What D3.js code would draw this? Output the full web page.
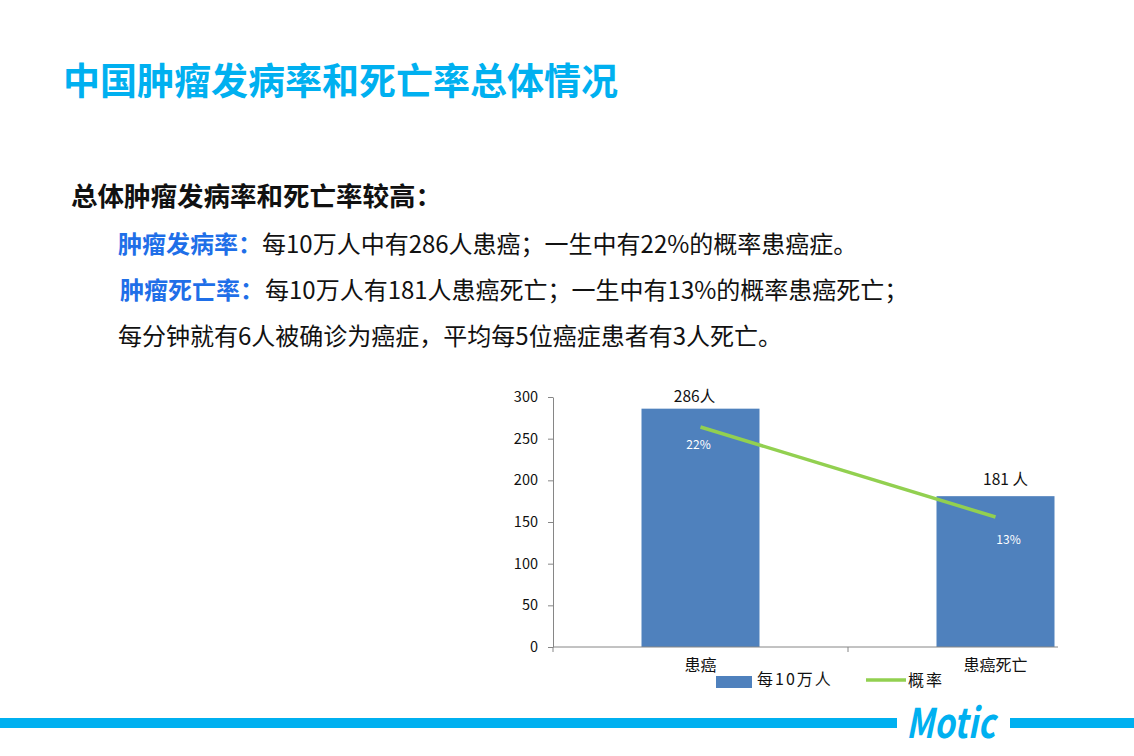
<!DOCTYPE html>
<html>
<head>
<meta charset="utf-8">
<script src="https://cdn.jsdelivr.net/npm/d3@7"></script>
<style>
    html, body { margin: 0; padding: 0; background: #fff; }
    svg { display: block; }
    text { font-family: "Noto Sans CJK SC", "Noto Sans", sans-serif; }
</style>
</head>
<body>
<svg id="slide" width="1134" height="756"></svg>
<script>
// ---- Dados
const categories = ['患癌', '患癌死亡'];
const perHundredK = [286, 181];
const barLabels = ['286人', '181 人'];
const rates = [0.22, 0.13];
const rateLabels = ['22%', '13%'];
const yTicks = [0, 50, 100, 150, 200, 250, 300];
const legendNames = ['每10万人', '概率'];

const BLUE = '#4f81bd';
const GREEN = '#92d050';
const CYAN = '#00b0f0';
const AXIS = '#868686';

const svg = d3.select('#slide');

// ---- Textos do slide
svg.append('text')
    .attr('x', 63).attr('y', 79)
    .attr('dominant-baseline', 'central')
    .attr('font-size', '37px').attr('font-weight', 'bold')
    .attr('fill', CYAN)
    .text('中国肿瘤发病率和死亡率总体情况');

svg.append('text')
    .attr('x', 71).attr('y', 194)
    .attr('dominant-baseline', 'central')
    .attr('font-size', '26.5px').attr('font-weight', 'bold')
    .attr('fill', '#111')
    .text('总体肿瘤发病率和死亡率较高：');

const lines = [
    { head: '肿瘤发病率：', body: '每10万人中有286人患癌；一生中有22%的概率患癌症。', y: 242, hx: 118, bx: 262 },
    { head: '肿瘤死亡率：', body: '每10万人有181人患癌死亡；一生中有13%的概率患癌死亡；', y: 288, hx: 120, bx: 265 },
    { head: '', body: '每分钟就有6人被确诊为癌症，平均每5位癌症患者有3人死亡。', y: 334, hx: 118, bx: 118 }
];

lines.forEach(l => {
    if (l.head) {
        svg.append('text')
            .attr('x', l.hx).attr('y', l.y)
            .attr('dominant-baseline', 'central')
            .attr('font-size', '24px').attr('font-weight', 'bold')
            .attr('fill', '#1f6fe8')
            .text(l.head);
    }
    svg.append('text')
        .attr('x', l.bx).attr('y', l.y)
        .attr('dominant-baseline', 'central')
        .attr('font-size', '24px')
        .attr('fill', '#111')
        .text(l.body);
});

// ---- Gráfico
const plot = { left: 553, top: 397, bottom: 647, right: 1058 };

const x = d3.scaleBand()
    .domain(categories)
    .range([plot.left, plot.left + 590])
    .paddingInner(0.6)
    .paddingOuter(0.3);

const y = d3.scaleLinear()
    .domain([0, 300])
    .range([plot.bottom, plot.top]);

const y2 = d3.scaleLinear()
    .domain([0, 0.25])
    .range([plot.bottom, plot.top]);

const chart = svg.append('g');

chart.selectAll('rect.bar')
    .data(perHundredK)
    .join('rect')
    .attr('class', 'bar')
    .attr('x', (d, i) => x(categories[i]))
    .attr('y', d => y(d))
    .attr('width', x.bandwidth())
    .attr('height', d => y(0) - y(d))
    .attr('fill', BLUE);

// eixo Y
chart.append('g')
    .attr('transform', `translate(${plot.left}, 0)`)
    .call(d3.axisLeft(y).tickValues(yTicks).tickSizeInner(5).tickSizeOuter(0).tickPadding(10))
    .call(g => g.select('.domain').attr('stroke', AXIS))
    .call(g => g.selectAll('.tick line').attr('stroke', AXIS))
    .call(g => g.selectAll('.tick text')
        .attr('font-family', '"Noto Sans", sans-serif')
        .attr('font-size', '14.5px')
        .attr('fill', '#111'));

// eixo X (linha cortada na borda da área do gráfico)
const xBoundaries = [plot.left, plot.left + x.step()];
chart.append('line')
    .attr('x1', plot.left).attr('x2', plot.right)
    .attr('y1', plot.bottom).attr('y2', plot.bottom)
    .attr('stroke', AXIS);

chart.selectAll('line.xtick')
    .data(xBoundaries)
    .join('line')
    .attr('class', 'xtick')
    .attr('x1', d => d).attr('x2', d => d)
    .attr('y1', plot.bottom).attr('y2', plot.bottom + 5)
    .attr('stroke', AXIS);

chart.selectAll('text.cat')
    .data(categories)
    .join('text')
    .attr('class', 'cat')
    .attr('x', d => x(d) + x.bandwidth() / 2)
    .attr('y', plot.bottom + 17)
    .attr('dominant-baseline', 'central')
    .attr('text-anchor', 'middle')
    .attr('font-size', '16px')
    .attr('fill', '#111')
    .text(d => d);

// rótulos das barras
const barLabelShift = [-6, 10];
chart.selectAll('text.bar-label')
    .data(perHundredK)
    .join('text')
    .attr('class', 'bar-label')
    .attr('x', (d, i) => x(categories[i]) + x.bandwidth() / 2 + barLabelShift[i])
    .attr('y', (d, i) => y(d) - (i === 0 ? 14 : 18))
    .attr('dominant-baseline', 'central')
    .attr('text-anchor', 'middle')
    .attr('font-size', '15.5px')
    .attr('fill', '#111')
    .text((d, i) => barLabels[i]);

// linha de probabilidade
const line = d3.line()
    .x((d, i) => x(categories[i]) + x.bandwidth() / 2)
    .y(d => y2(d));

chart.append('path')
    .datum(rates)
    .attr('d', line)
    .attr('fill', 'none')
    .attr('stroke', GREEN)
    .attr('stroke-width', 3.5);

const rateLabelShift = [[-2, 16], [13, 21]];
chart.selectAll('text.rate-label')
    .data(rates)
    .join('text')
    .attr('class', 'rate-label')
    .attr('x', (d, i) => x(categories[i]) + x.bandwidth() / 2 + rateLabelShift[i][0])
    .attr('y', (d, i) => y2(d) + rateLabelShift[i][1])
    .attr('dominant-baseline', 'central')
    .attr('text-anchor', 'middle')
    .attr('font-family', '"Noto Sans", sans-serif')
    .attr('font-size', '12px')
    .attr('fill', '#fff')
    .text((d, i) => rateLabels[i]);

// ---- Legenda
const legend = svg.append('g');
legend.append('rect')
    .attr('x', 716).attr('y', 676)
    .attr('width', 36).attr('height', 12)
    .attr('fill', BLUE);
legend.append('text')
    .attr('x', 757).attr('y', 678)
    .attr('dominant-baseline', 'central')
    .attr('font-size', '16px')
    .attr('letter-spacing', '2px')
    .attr('fill', '#111')
    .text(legendNames[0]);
legend.append('line')
    .attr('x1', 866).attr('x2', 906)
    .attr('y1', 680).attr('y2', 680)
    .attr('stroke', GREEN)
    .attr('stroke-width', 3.5);
legend.append('text')
    .attr('x', 908).attr('y', 679)
    .attr('dominant-baseline', 'central')
    .attr('font-size', '16px')
    .attr('letter-spacing', '2px')
    .attr('fill', '#111')
    .text(legendNames[1]);

// ---- Rodapé
svg.append('rect')
    .attr('x', 0).attr('y', 718)
    .attr('width', 897).attr('height', 10)
    .attr('fill', CYAN);
svg.append('rect')
    .attr('x', 1010).attr('y', 718)
    .attr('width', 124).attr('height', 10)
    .attr('fill', CYAN);
svg.append('text')
    .attr('x', 906).attr('y', 738)
    .attr('font-family', '"Liberation Sans Narrow", "Liberation Sans", sans-serif')
    .attr('font-size', '41px')
    .attr('font-weight', 'bold')
    .attr('font-style', 'italic')
    .attr('textLength', 89)
    .attr('lengthAdjust', 'spacingAndGlyphs')
    .attr('fill', CYAN)
    .text('Motic');
</script>
</body>
</html>
